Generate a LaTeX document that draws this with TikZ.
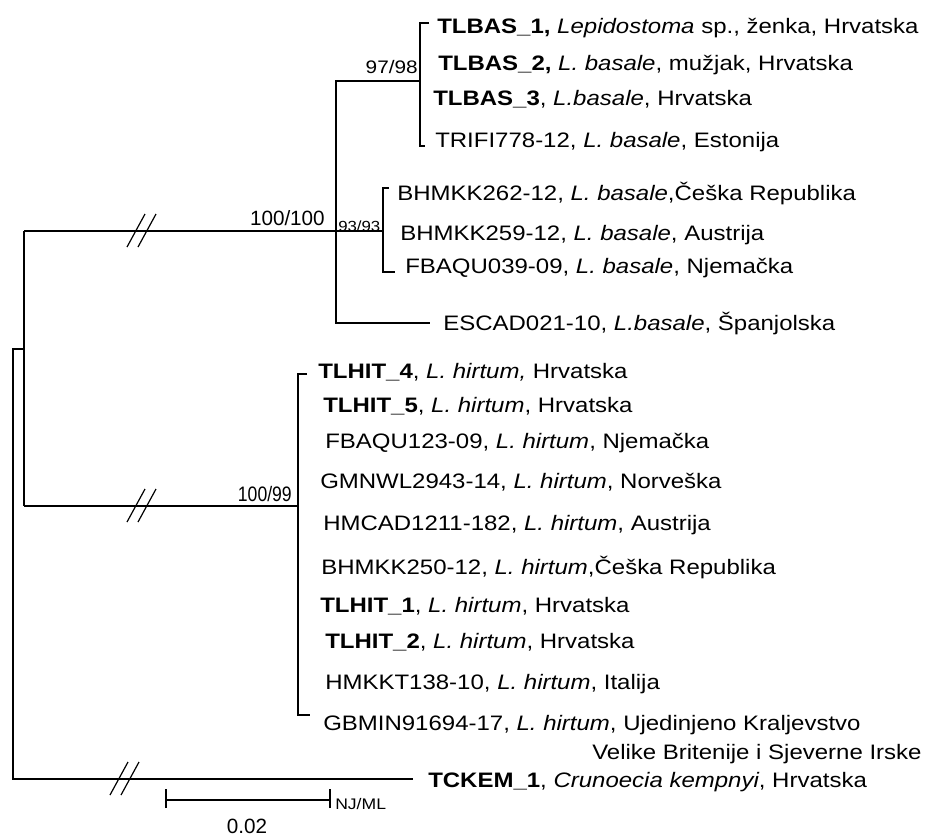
\documentclass[tikz,border=0pt]{standalone}
\usepackage{fontspec}
\setmainfont{Liberation Sans}[FakeStretch=1.146]
\newfontfamily\supfont{Liberation Sans}
\newfontfamily\condfont{Liberation Sans}[FakeStretch=0.84]
\usetikzlibrary{positioning}

\begin{document}
\begin{tikzpicture}[x=0.75pt,y=-0.75pt,
    every node/.style={inner sep=0pt,font=\fontsize{15.7}{18}\selectfont},
    taxon/.style={anchor=base west},
    support/.style={anchor=base east,font=\supfont\fontsize{15.5}{18}\selectfont},
    branch/.style={line width=1.2pt},
    stem/.style={line width=1.9pt},
    brk/.style={line width=0.9pt}]
    \useasboundingbox (0,0) rectangle (936,836);

    % internal nodes
    \coordinate (root) at (13,349);
    \coordinate (ing) at (24,349);
    \coordinate (bas) at (336,231);
    \coordinate (c97) at (420,81);
    \coordinate (c93) at (383,231);
    \coordinate (hit) at (298,506);

    % branch ends
    \coordinate (bas1e) at (429,23);
    \coordinate (trie) at (425,146);
    \coordinate (bh262e) at (389,188);
    \coordinate (fb039e) at (395,272);
    \coordinate (esce) at (430,323);
    \coordinate (hit4e) at (307,374);
    \coordinate (gbe) at (310,715);
    \coordinate (tcke) at (413,779);
    \coordinate (brka) at (141,231);
    \coordinate (brkb) at (141,506);
    \coordinate (brkc) at (124,779);

    % taxa
    \node[taxon] (bas1) at (437,33) {\textbf{TLBAS\_1,} \textit{Lepidostoma} sp., ženka, Hrvatska};
    \node[taxon] (bas2) at (438,70) {\textbf{TLBAS\_2,} \textit{L. basale}, mužjak, Hrvatska};
    \node[taxon] (bas3) at (433,105) {\textbf{TLBAS\_3}, \textit{L.basale}, Hrvatska};
    \node[taxon] (tri) at (435,147) {TRIFI778-12, \textit{L. basale}, Estonija};
    \node[taxon] (bh262) at (397,200) {BHMKK262-12, \textit{L. basale},Češka Republika};
    \node[taxon] (bh259) at (400,240) {BHMKK259-12, \textit{L. basale}, Austrija};
    \node[taxon] (fb039) at (405,273) {FBAQU039-09, \textit{L. basale}, Njemačka};
    \node[taxon] (esc) at (443,330) {ESCAD021-10, \textit{L.basale}, Španjolska};
    \node[taxon] (hit4) at (318,378) {\textbf{TLHIT\_4}, \textit{L. hirtum,} Hrvatska};
    \node[taxon] (hit5) at (323,412) {\textbf{TLHIT\_5}, \textit{L. hirtum}, Hrvatska};
    \node[taxon] (fb123) at (325,448) {FBAQU123-09, \textit{L. hirtum}, Njemačka};
    \node[taxon] (gmn) at (320,488) {GMNWL2943-14, \textit{L. hirtum}, Norveška};
    \node[taxon] (hmc) at (323,530) {HMCAD1211-182, \textit{L. hirtum}, Austrija};
    \node[taxon] (bh250) at (321,574) {BHMKK250-12, \textit{L. hirtum},Češka Republika};
    \node[taxon] (hit1) at (320,612) {\textbf{TLHIT\_1}, \textit{L. hirtum}, Hrvatska};
    \node[taxon] (hit2) at (325,648) {\textbf{TLHIT\_2}, \textit{L. hirtum}, Hrvatska};
    \node[taxon] (hmk) at (325,689) {HMKKT138-10, \textit{L. hirtum}, Italija};
    \node[taxon] (gb) at (323,730) {GBMIN91694-17, \textit{L. hirtum}, Ujedinjeno Kraljevstvo};
    \node[taxon] (gb2) at (592,759) {Velike Britenije i Sjeverne Irske};
    \node[taxon] (tck) at (428,787) {\textbf{TCKEM\_1}, \textit{Crunoecia kempnyi}, Hrvatska};

    % support values
    \node[support] (s100) at (325,225) {100/100};
    \node[anchor=base west,font=\fontsize{11}{12}\selectfont] (s93) at (338,231) {93/93};
    \node[support,font=\fontsize{13.6}{16}\selectfont] (s97) at (418,73) {97/98};
    \node[support,font=\condfont\fontsize{15.7}{18}\selectfont] (s99) at (292,501) {100/99};

    % tree
    \draw[branch] (ing) -- (root) -- (root |- tcke) -- (tcke);
    \draw[stem] (ing |- bas) -- (brka);
    \draw[stem] (ing |- hit) -- (brkb);
    \draw[branch] (ing |- bas) -- (ing |- hit);
    \draw[branch] (brka) -- (bas) -- (c93);
    \draw[branch] (brkb) -- (hit);
    \draw[branch] (c97) -| (bas) |- (esce);
    \draw[branch] (bas1e) -| (c97) |- (trie);
    \draw[branch] (bh262e) -| (c93) |- (fb039e);
    \draw[branch] (hit4e) -| (hit) |- (gbe);
    \draw[stem] (c97 |- bas1e) -- (bas1e);
    \draw[stem] (c93 |- fb039e) -- (fb039e);
    \draw[stem] (hit |- gbe) -- (gbe);
    \foreach \b in {brka,brkb,brkc}
      \draw[brk,shift={(\b)}] (-14,16) -- (4,-17) (-3,16) -- (15,-17);

    % scale bar
    \coordinate (sba) at (166,800);
    \coordinate (sbb) at (330,800);
    \draw[line width=1.2pt] (sba) -- (sbb);
    \draw[line width=1.2pt] ([yshift=-6]sba) -- ([yshift=8]sba) ([yshift=-6]sbb) -- ([yshift=8]sbb);
    \node[anchor=base west,font=\fontsize{11.5}{13}\selectfont] (nj) at (335,809) {NJ/ML};
    \node[anchor=base,font=\supfont\fontsize{15.5}{18}\selectfont] (sbl) at (247,833) {0.02};
\end{tikzpicture}
\end{document}
